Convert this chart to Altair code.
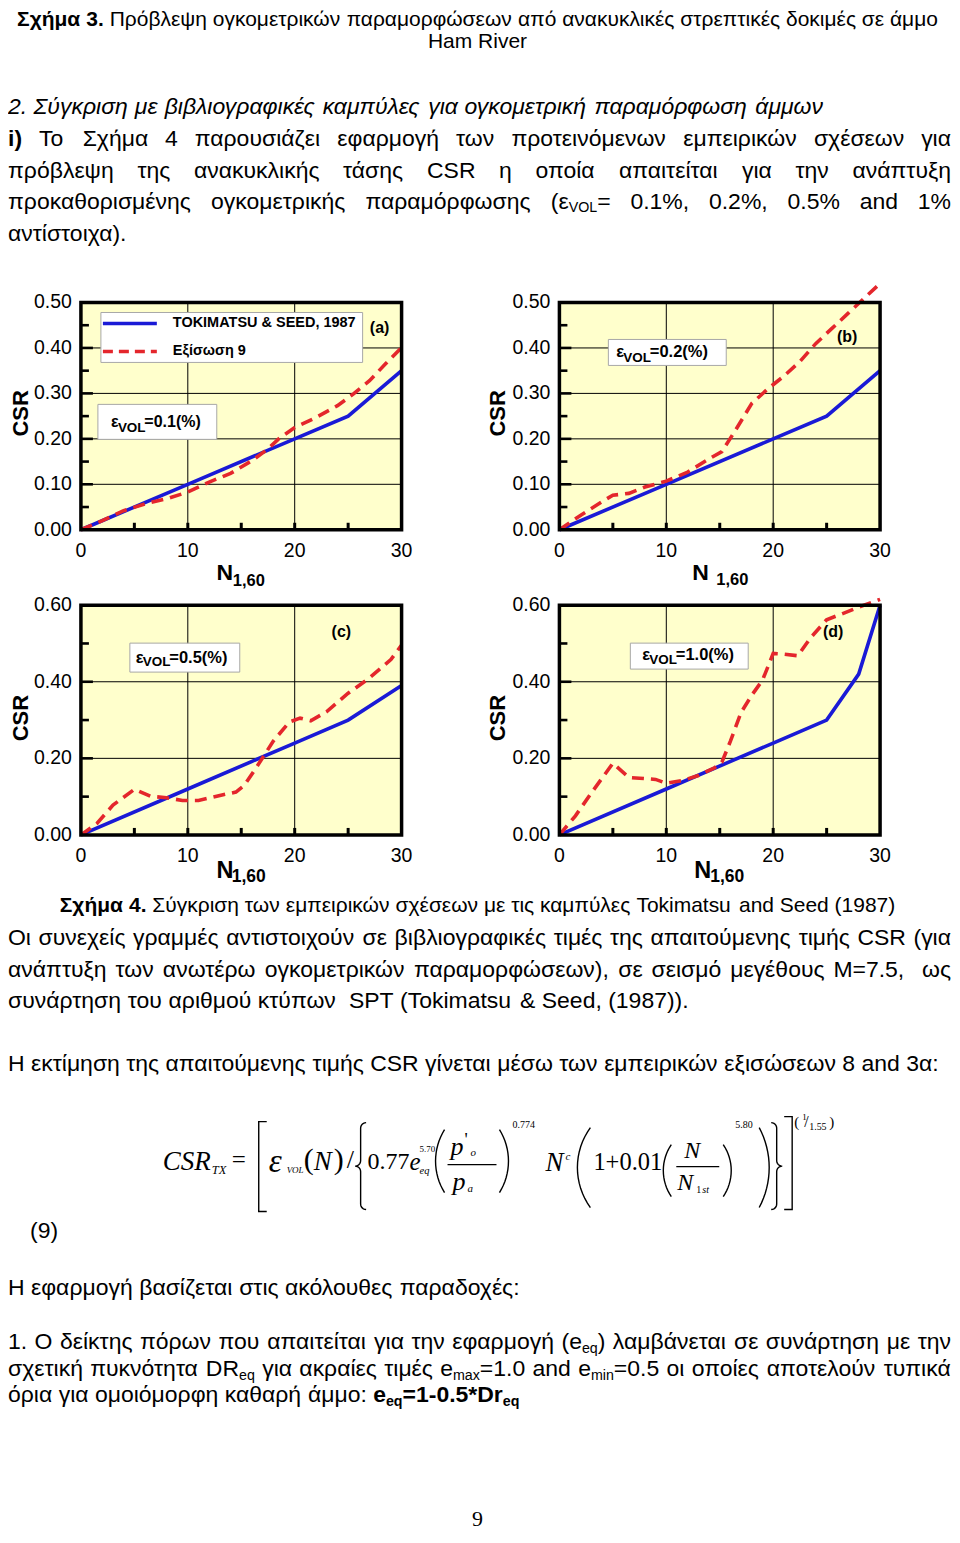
import math
import unicodedata
import altair as alt
import pandas as pd

# ======================= values =======================
X_TICKS = [0, 10, 20, 30]
X_TICK_LABELS = ["0", "10", "20", "30"]
X_GRID = [10, 20]
X_INNER_TICKS = [5, 10, 15, 20, 25]

Y_TICKS_AB = [0.0, 0.1, 0.2, 0.3, 0.4, 0.5]
Y_LABELS_AB = ["0.00", "0.10", "0.20", "0.30", "0.40", "0.50"]
Y_GRID_AB = [0.1, 0.2, 0.3, 0.4]
Y_MINOR_AB = [0.05, 0.15, 0.25, 0.35, 0.45]
Y_TICKS_CD = [0.0, 0.2, 0.4, 0.6]
Y_LABELS_CD = ["0.00", "0.20", "0.40", "0.60"]
Y_GRID_CD = [0.2, 0.4]
Y_MINOR_CD = [0.1, 0.3, 0.5]

# Tokimatsu & Seed (1987) – solid blue
N_TS_A = [0, 10, 20, 25, 30]
CSR_TS_A = [0.0, 0.10, 0.20, 0.25, 0.35]
N_TS_B = [0, 10, 20, 25, 30]
CSR_TS_B = [0.0, 0.10, 0.20, 0.25, 0.35]
N_TS_C = [0, 10, 20, 25, 30]
CSR_TS_C = [0.0, 0.12, 0.24, 0.30, 0.39]
N_TS_D = [0, 10, 20, 25, 28, 30]
CSR_TS_D = [0.0, 0.12, 0.24, 0.30, 0.42, 0.60]

# Equation 9 – dashed red
N_EQ_A = [0, 2, 4, 6, 8, 10, 12, 14, 16, 17.5, 18.5, 20, 22, 24, 25.5, 27, 28.5, 30]
CSR_EQ_A = [0.0, 0.02, 0.042, 0.057, 0.068, 0.083, 0.105, 0.124, 0.152, 0.178,
            0.2, 0.225, 0.247, 0.273, 0.299, 0.328, 0.365, 0.401]
N_EQ_B = [0, 2, 4, 5, 6.5, 8, 10, 12, 14, 15.2, 16.5, 18, 19.5, 21, 22.5, 24, 25.5, 27, 28.5, 30]
CSR_EQ_B = [0.0, 0.032, 0.062, 0.076, 0.08, 0.094, 0.107, 0.127, 0.156, 0.172,
            0.22, 0.278, 0.31, 0.338, 0.37, 0.41, 0.443, 0.476, 0.509, 0.542]
N_EQ_C = [0, 1.5, 3, 5, 6.5, 8, 9.5, 11, 13, 14.5, 15.3, 16.5, 18, 19.5, 20.5, 21.5, 23, 25, 27, 29, 30]
CSR_EQ_C = [0.0, 0.03, 0.078, 0.119, 0.101, 0.097, 0.09, 0.09, 0.103, 0.112, 0.13,
            0.18, 0.245, 0.295, 0.305, 0.298, 0.322, 0.37, 0.41, 0.458, 0.496]
N_EQ_D = [0, 1.5, 3, 5, 6.5, 7.5, 9, 10, 11.5, 13, 14.5, 15.2, 16, 17, 18, 19, 20, 21,
          22.3, 23.5, 25, 26.5, 28, 30]
CSR_EQ_D = [0.0, 0.05, 0.11, 0.187, 0.15, 0.148, 0.145, 0.135, 0.142, 0.155, 0.175, 0.19,
            0.245, 0.32, 0.365, 0.404, 0.474, 0.472, 0.468, 0.515, 0.562, 0.578, 0.595, 0.615]

LEGEND_LABELS = ["TOKIMATSU & SEED, 1987", "Εξίσωση 9"]
PANEL_TAGS = ["(a)", "(b)", "(c)", "(d)"]
EVOL_VALUES = ["=0.1(%)", "=0.2(%)", "=0.5(%)", "=1.0(%)"]
Y_TITLE = "CSR"
X_TITLE = ["N", "1,60"]

# ---------------------------- page text ----------------------------
TITLE3 = [("Σχήμα 3.", "b"), (" Πρόβλεψη ογκομετρικών παραμορφώσεων από ανακυκλικές στρεπτικές δοκιμές σε άμμο", "n")]
TITLE3B = [("Ham River", "n")]
HEAD2 = [("2. Σύγκριση με βιβλιογραφικές καμπύλες για ογκομετρική παραμόρφωση άμμων", "i")]
PARA1 = [
    [("i)", "b"), (" Το Σχήμα 4 παρουσιάζει εφαρμογή των προτεινόμενων εμπειρικών σχέσεων για", "n")],
    [("πρόβλεψη της ανακυκλικής τάσης CSR η οποία απαιτείται για την ανάπτυξη", "n")],
    [("προκαθορισμένης ογκομετρικής παραμόρφωσης (ε", "n"), ("VOL", "ns"), ("= 0.1%, 0.2%, 0.5% and 1%", "n")],
    [("αντίστοιχα).", "n")],
]
CAPTION4 = [("Σχήμα 4.", "b"), (" Σύγκριση των εμπειρικών σχέσεων με τις καμπύλες Tokimatsu and Seed (1987)", "n")]
PARA2 = [
    [("Οι συνεχείς γραμμές αντιστοιχούν σε βιβλιογραφικές τιμές της απαιτούμενης τιμής CSR (για", "n")],
    [("ανάπτυξη των ανωτέρω ογκομετρικών παραμορφώσεων), σε σεισμό μεγέθους M=7.5,  ως", "n")],
    [("συνάρτηση του αριθμού κτύπων  SPT (Tokimatsu & Seed, (1987)).", "n")],
]
PARA3 = [("Η εκτίμηση της απαιτούμενης τιμής CSR γίνεται μέσω των εμπειρικών εξισώσεων 8 and 3α:", "n")]
EQ_NUMBER = "(9)"
PARA4 = [("Η εφαρμογή βασίζεται στις ακόλουθες παραδοχές:", "n")]
PARA5 = [
    [("1. Ο δείκτης πόρων που απαιτείται για την εφαρμογή (e", "n"), ("eq", "ns"),
     (") λαμβάνεται σε συνάρτηση με την", "n")],
    [("σχετική πυκνότητα DR", "n"), ("eq", "ns"), (" για ακραίες τιμές e", "n"), ("max", "ns"),
     ("=1.0 and e", "n"), ("min", "ns"), ("=0.5 οι οποίες αποτελούν τυπικά", "n")],
    [("όρια για ομοιόμορφη καθαρή άμμο: ", "n"), ("e", "b"), ("eq", "bs"), ("=1-0.5*Dr", "b"), ("eq", "bs")],
]
PAGE_NO = "9"

# formula pieces: text, style, page x (left), page y (centre), font size
FORMULA = [
    ("CSR", "fi", 163, 1162, 27), ("TX", "fi", 212, 1170, 12.5),
    ("=", "fn", 232, 1160, 25),
    ("ε", "fi", 269, 1162, 33), ("VOL", "fi", 287, 1170, 9),
    ("(", "fn", 304, 1160, 30), ("N", "fi", 314, 1162, 27), (")", "fn", 334, 1160, 30),
    ("/", "fn", 347, 1160, 26),
    ("0.77", "fn", 368, 1162, 24), ("e", "fi", 410, 1162, 25),
    ("5.70", "fn", 420, 1149, 9), ("eq", "fi", 420, 1171, 10.5),
    ("p", "fi", 451, 1147, 26), ("'", "fn", 465, 1141, 18), ("o", "fi", 471, 1153, 11),
    ("p", "fi", 453, 1182, 26), ("a", "fi", 468, 1189, 11),
    ("0.774", "fn", 513, 1125, 10),
    ("N", "fi", 546, 1163, 27), ("c", "fi", 566, 1157, 11),
    ("1+0.01", "fn", 594, 1163, 24.5),
    ("N", "fi", 685, 1151, 24), ("N", "fi", 678, 1183, 24),
    ("1", "fn", 697, 1190, 10), ("st", "fi", 703, 1190, 10),
    ("5.80", "fn", 736, 1125, 10),
    ("(", "fn", 795, 1122, 15), ("1", "fn", 803, 1117, 9), ("/", "fn", 805, 1122, 16),
    ("1.55", "fn", 810, 1127, 10), (")", "fn", 830, 1122, 15),
]

# ======================= styling / layout constants =======================
SANS = "Liberation Sans, Arial, Helvetica, sans-serif"
SERIF = "Liberation Serif, Times New Roman, Times, serif"
BLUE = "#1a1ad6"
RED = "#e4262c"
BG = "#ffffcc"
W, H = 944, 1525
OFF = 8  # page margin

# plot areas in chart pixels: x0, x1, ytop, ybottom
PANELS = [
    dict(tag=0, box=(73, 394, 294, 521.5), ymax=0.5, yt=Y_TICKS_AB, yl=Y_LABELS_AB, yg=Y_GRID_AB,
         ym=Y_MINOR_AB, nts=N_TS_A, cts=CSR_TS_A, neq=N_EQ_A, ceq=CSR_EQ_A),
    dict(tag=1, box=(552, 873, 294, 521.5), ymax=0.5, yt=Y_TICKS_AB, yl=Y_LABELS_AB, yg=Y_GRID_AB,
         ym=Y_MINOR_AB, nts=N_TS_B, cts=CSR_TS_B, neq=N_EQ_B, ceq=CSR_EQ_B),
    dict(tag=2, box=(73, 394, 597, 827), ymax=0.6, yt=Y_TICKS_CD, yl=Y_LABELS_CD, yg=Y_GRID_CD,
         ym=Y_MINOR_CD, nts=N_TS_C, cts=CSR_TS_C, neq=N_EQ_C, ceq=CSR_EQ_C),
    dict(tag=3, box=(552, 873, 597, 827), ymax=0.6, yt=Y_TICKS_CD, yl=Y_LABELS_CD, yg=Y_GRID_CD,
         ym=Y_MINOR_CD, nts=N_TS_D, cts=CSR_TS_D, neq=N_EQ_D, ceq=CSR_EQ_D),
]

# ---------------------- approximate Arial advance widths ----------------------
CW = {' ': .278, '.': .278, ',': .278, ':': .278, ';': .278, '(': .333, ')': .333, '%': .889,
      '=': .584, '-': .333, '&': .667, '*': .389, '/': .278, '+': .584, "'": .191}
CW.update({c: .556 for c in "0123456789"})
CW.update(dict(zip("abcdefghijklmnopqrstuvwxyz",
                   [.556, .556, .5, .556, .556, .278, .556, .556, .222, .222, .5, .222, .833, .556,
                    .556, .556, .556, .333, .5, .278, .556, .5, .722, .5, .5, .5])))
CW.update(dict(zip("ABCDEFGHIJKLMNOPQRSTUVWXYZ",
                   [.667, .667, .722, .722, .667, .611, .778, .722, .278, .5, .667, .556, .833, .722,
                    .778, .667, .778, .722, .667, .611, .722, .667, .944, .667, .667, .611])))
CW.update(dict(zip("αβγδεζηθικλμνξοπρςστυφχψω",
                   [.578, .575, .5, .557, .446, .441, .556, .556, .222, .5, .5, .576, .5, .447, .556,
                    .691, .571, .48, .617, .395, .546, .649, .524, .713, .781])))
CW.update(dict(zip("ΑΒΓΔΕΖΗΘΙΚΛΜΝΞΟΠΡΣΤΥΦΧΨΩ",
                   [.667, .667, .551, .668, .667, .611, .722, .778, .278, .667, .668, .833, .722, .65,
                    .778, .722, .667, .618, .611, .667, .797, .667, .835, .748])))
CWB = dict(CW)
CWB.update(dict(zip("abcdefghijklmnopqrstuvwxyz",
                    [.556, .611, .556, .611, .556, .333, .611, .611, .278, .278, .556, .278, .889, .611,
                     .611, .611, .611, .389, .556, .333, .611, .556, .778, .556, .556, .5])))
CWB.update({'(': .333, ')': .333, ':': .333, ';': .333, '&': .722})


def text_w(s, fs, bold=False):
    tot = 0.0
    for c in s:
        b = unicodedata.normalize("NFD", c)[0]
        if bold:
            tot += CWB[b] if b in CWB and b.isascii() else CW.get(b, .556) * 1.06
        else:
            tot += CW.get(b, .556)
    return tot * fs


ROWS = []


def emit(t, x, y, fs, sty):
    ROWS.append({"x": round(x, 2), "y": round(y, 2), "t": t, "fs": round(fs, 2), "sty": sty})


SUB = 0.62


def run_props(st, fs):
    if st == "ns":
        return "n", fs * SUB, 0.28 * fs, False
    if st == "bs":
        return "b", fs * SUB, 0.28 * fs, True
    return st, fs, 0.0, st == "b"


def to_words(runs):
    words = [[]]
    for text, st in runs:
        parts = text.split(" ")
        for i, p in enumerate(parts):
            if i > 0:
                words.append([])
            if p:
                words[-1].append((p, st))
    return words


def word_w(word, fs):
    tot = 0.0
    for t, st in word:
        _, f, _, bold = run_props(st, fs)
        tot += text_w(t, f, bold)
    return tot


def layout(runs, y, fs, mode, x0=0.0, x1=float(W), cx=470.0):
    words = to_words(runs)
    ws = [word_w(w, fs) for w in words]
    n = len(words)
    sp = 0.278 * fs
    if mode == "justify" and n > 1:
        gap = (x1 - x0 - sum(ws)) / (n - 1)
        x = x0
    elif mode == "center":
        gap = sp
        x = cx - (sum(ws) + sp * (n - 1)) / 2
    else:
        gap = sp
        x = x0
    for w, ww in zip(words, ws):
        xx = x
        for t, st in w:
            sty, f, dy, bold = run_props(st, fs)
            emit(t, xx, y + dy, f, sty)
            xx += text_w(t, f, bold)
        x += ww + gap


# page text placement (chart y = page y - 8)
layout(TITLE3, 11, 21, "center")
layout(TITLE3B, 33, 21, "center")
layout(HEAD2, 98, 23, "left")
for runs, yy, md in zip(PARA1, [130, 162, 193, 225], ["justify", "justify", "justify", "left"]):
    layout(runs, yy, 23, md)
layout(CAPTION4, 898, 21, "center")
for runs, yy, md in zip(PARA2, [930, 962, 993], ["justify", "justify", "left"]):
    layout(runs, yy, 23, md)
layout(PARA3, 1056, 23, "left")
emit(EQ_NUMBER, 22, 1223, 23, "n")
layout(PARA4, 1281, 23, "left")
for runs, yy, md in zip(PARA5, [1335, 1362, 1388], ["justify", "justify", "left"]):
    layout(runs, yy, 23, md)
emit(PAGE_NO, 470, 1512, 22, "fnc")

for t, st, px, py, fs in FORMULA:
    emit(t, px - OFF, py - OFF, fs, st)

# panel annotations
emit(LEGEND_LABELS[0], 165, 315, 14.5, "b")
emit(LEGEND_LABELS[1], 165, 343, 14.5, "b")
TAG_POS = [(372, 320), (840, 328.5), (333.7, 623.7), (826, 623.7)]
for tg, (tx, ty) in zip(PANEL_TAGS, TAG_POS):
    emit(tg, tx, ty, 16, "bc")
# epsilon_VOL boxes: (eps x, main y, VOL x, sub y, font, sub font)
EPS_POS = [(103, 413.5, 110, 419.5, 16, 13.5),
           (609, 343.5, 616, 349.5, 16.5, 13.5),
           (128, 649.5, 135, 654, 16.5, 13.5),
           (635, 647, 642, 652, 16.5, 13.5)]
for val, (ex, ey, vx, vy, f1, f2) in zip(EVOL_VALUES, EPS_POS):
    emit("ε", ex, ey, f1, "b")
    emit("VOL", vx, vy, f2, "b")
    emit(val, vx + text_w("VOL", f2, True) - 0.5, ey, f1, "b")
# axis titles
for p, (nx, ny, sx, sy, f1, f2, cx_, cy_) in zip(PANELS, [
        (208.7, 564.5, 225, 572.5, 23, 16.5, 13, 405),
        (685, 565, 709, 572, 23, 16.5, 491, 405),
        (208.7, 863.5, 224, 869.5, 23.5, 17.5, 13, 710),
        (687, 863.5, 703, 869.5, 23.5, 17.5, 491, 710)]):
    emit(X_TITLE[0], nx, ny, f1, "b")
    emit(X_TITLE[1], sx, sy, f2, "b")
    emit(Y_TITLE, cx_, cy_, 22, "brot")

TXT = pd.DataFrame(ROWS)

# ------------------------- formula delimiters -------------------------
def bracket(x, top, bot, serif):
    return [(x + serif, top), (x, top), (x, bot), (x + serif, bot)]


def paren(x_tip, x_end, top, bot, n=17):
    w = abs(x_end - x_tip)
    h = bot - top
    r = (h * h / 4 + w * w) / (2 * w)
    s = 1 if x_end > x_tip else -1
    cx, cy = x_tip + s * r, (top + bot) / 2
    phi0 = math.asin((h / 2) / r)
    return [(cx - s * r * math.cos(-phi0 + 2 * phi0 * i / (n - 1)),
             cy + r * math.sin(-phi0 + 2 * phi0 * i / (n - 1))) for i in range(n)]


def brace(xs, top, bot, a, s=1):
    mid = (top + bot) / 2
    pts = []

    def arc(cx, cy, t0, t1, n=7):
        for i in range(n):
            t = math.radians(t0 + (t1 - t0) * i / (n - 1))
            pts.append((cx + a * math.cos(t), cy - a * math.sin(t)))
    arc(xs + a, top + a, 90, 180)
    arc(xs - a, mid - a, 0, -90)
    arc(xs - a, mid + a, 90, 0)
    arc(xs + a, bot - a, 180, 270)
    if s == -1:
        pts = [(2 * xs - x, y) for x, y in pts]
    return pts


SHAPES = [
    bracket(259, 1122, 1212, 8), bracket(793, 1117, 1210, -8),
    brace(361, 1123, 1210, 5.5, 1), brace(777.5, 1123, 1210, 5.5, -1),
    paren(436, 445, 1130, 1193), paren(509, 500, 1130, 1193),
    paren(578, 591, 1128, 1208), paren(770, 760, 1128, 1208),
    paren(664, 672, 1145, 1197), paren(732, 724, 1145, 1197),
    [(448, 1165), (497, 1165)], [(677, 1167), (720, 1167)],
]
PATH = pd.DataFrame([{"piece": i, "k": k, "x": x - OFF, "y": y - OFF}
                     for i, pts in enumerate(SHAPES) for k, (x, y) in enumerate(pts)])

# ============================== layers ==============================
XN = dict(scale=None, axis=None)


def px_enc(**extra):
    d = dict(x=alt.X("x:Q", **XN), y=alt.Y("y:Q", **XN))
    d.update(extra)
    return d


BOX = pd.DataFrame([{"x": p["box"][0], "x2": p["box"][1], "y": p["box"][2], "y2": p["box"][3]}
                    for p in PANELS])
layers = [alt.Chart(BOX).mark_rect(fill=BG).encode(**px_enc(x2="x2:Q", y2="y2:Q"))]

tick_layers = []
for p in PANELS:
    x0, x1, yt, yb = p["box"]
    xsc = alt.Scale(domain=[0, 30], range=[x0, x1], nice=False, zero=False)
    ysc = alt.Scale(domain=[0, p["ymax"]], range=[yb, yt], nice=False, zero=False)

    def X():
        return alt.X("N:Q", scale=xsc, axis=None)

    def Y():
        return alt.Y("CSR:Q", scale=ysc, axis=None)

    layers += [
        alt.Chart(pd.DataFrame({"N": X_GRID})).mark_rule(color="black", strokeWidth=1)
        .encode(x=X(), y=alt.value(yt), y2=alt.value(yb)),
        alt.Chart(pd.DataFrame({"CSR": p["yg"]})).mark_rule(color="black", strokeWidth=1)
        .encode(y=Y(), x=alt.value(x0), x2=alt.value(x1)),
        alt.Chart(pd.DataFrame({"N": p["nts"], "CSR": p["cts"]}))
        .mark_line(color=BLUE, strokeWidth=3.6).encode(x=X(), y=Y()),
        alt.Chart(pd.DataFrame({"N": p["neq"], "CSR": p["ceq"]}))
        .mark_line(color=RED, strokeWidth=3.6, strokeDash=[12, 7]).encode(x=X(), y=Y()),
    ]
    tick_layers += [
        alt.Chart(pd.DataFrame({"CSR": p["yg"]})).mark_rule(color="black", strokeWidth=2.6)
        .encode(y=Y(), x=alt.value(x0), x2=alt.value(x0 + 12)),
        alt.Chart(pd.DataFrame({"CSR": p["ym"]})).mark_rule(color="black", strokeWidth=2.6)
        .encode(y=Y(), x=alt.value(x0), x2=alt.value(x0 + 8)),
        alt.Chart(pd.DataFrame({"N": X_INNER_TICKS})).mark_rule(color="black", strokeWidth=3)
        .encode(x=X(), y=alt.value(yb), y2=alt.value(yb - 7)),
        alt.Chart(pd.DataFrame({"N": X_TICKS, "lab": X_TICK_LABELS}))
        .mark_text(font=SANS, fontSize=19.5, align="center", baseline="middle", color="black")
        .encode(x=X(), y=alt.value(yb + 21), text="lab:N"),
        alt.Chart(pd.DataFrame({"CSR": p["yt"], "lab": p["yl"]}))
        .mark_text(font=SANS, fontSize=19.5, align="right", baseline="middle", color="black")
        .encode(y=Y(), x=alt.value(x0 - 9), text="lab:N"),
    ]

layers.append(alt.Chart(BOX).mark_rect(fill="transparent", stroke="black", strokeWidth=3.5)
              .encode(**px_enc(x2="x2:Q", y2="y2:Q")))
layers += tick_layers

WBOX = pd.DataFrame({"x": [93, 90, 601, 122, 623], "x2": [355, 209, 719, 232, 741],
                     "y": [304, 396, 331, 635, 635], "y2": [354, 431, 357, 664, 661]})
layers.append(alt.Chart(WBOX).mark_rect(fill="white", stroke="#a8a8a8", strokeWidth=1)
              .encode(**px_enc(x2="x2:Q", y2="y2:Q")))
layers.append(alt.Chart(pd.DataFrame({"x": [95], "x2": [149], "y": [315]}))
              .mark_rule(color=BLUE, strokeWidth=3.6).encode(**px_enc(x2="x2:Q")))
layers.append(alt.Chart(pd.DataFrame({"x": [95], "x2": [149], "y": [343]}))
              .mark_rule(color=RED, strokeWidth=3.6, strokeDash=[10, 6]).encode(**px_enc(x2="x2:Q")))


def tlayer(sty, font, weight="normal", fstyle="normal", align="left", angle=None):
    kw = dict(font=font, fontWeight=weight, fontStyle=fstyle, align=align, baseline="middle",
              color="black")
    if angle is not None:
        kw["angle"] = angle
    return (alt.Chart(TXT).transform_filter(alt.datum.sty == sty).mark_text(**kw)
            .encode(**px_enc(text="t:N", size=alt.Size("fs:Q", scale=None, legend=None))))


layers += [
    tlayer("n", SANS), tlayer("b", SANS, weight="bold"), tlayer("i", SANS, fstyle="italic"),
    tlayer("bc", SANS, weight="bold", align="center"),
    tlayer("brot", SANS, weight="bold", align="center", angle=270),
    tlayer("fn", SERIF), tlayer("fi", SERIF, fstyle="italic"), tlayer("fnc", SERIF, align="center"),
]
layers.append(alt.Chart(PATH).mark_line(color="black", strokeWidth=1.4)
              .encode(**px_enc(detail="piece:N", order="k:Q")))

chart = (alt.layer(*layers)
         .resolve_scale(x="independent", y="independent")
         .properties(width=W, height=H, padding=0)
         .configure_view(strokeWidth=0))

chart.save("out.html", embed_options={"renderer": "svg", "actions": False})
